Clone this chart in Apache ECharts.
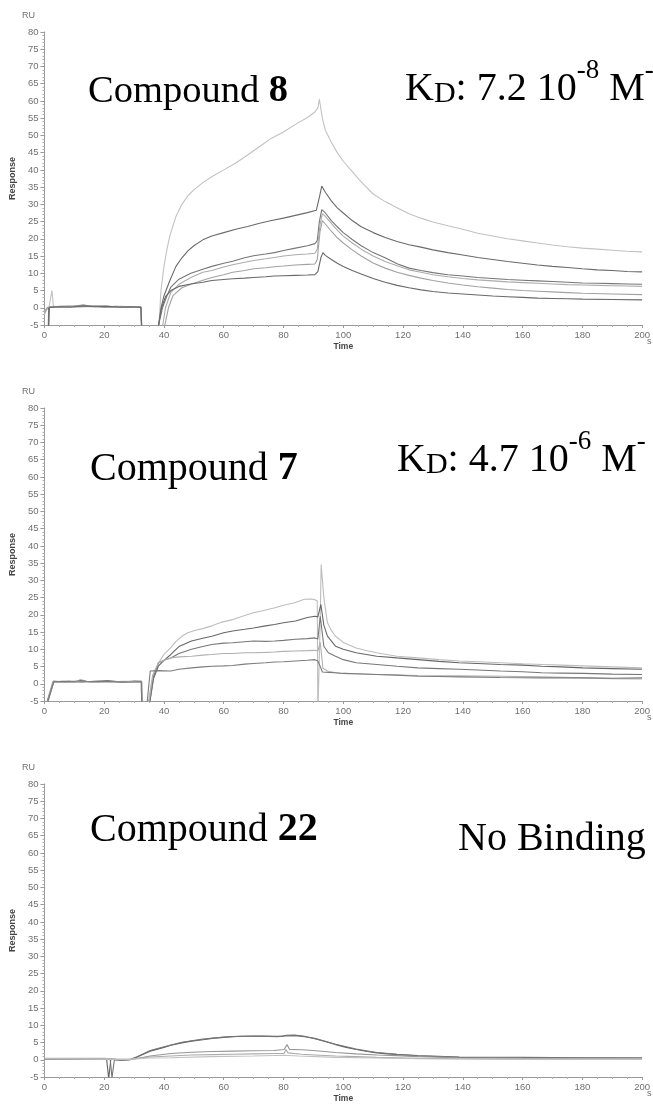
<!DOCTYPE html>
<html>
<head>
<meta charset="utf-8">
<script src="https://cdn.jsdelivr.net/npm/echarts@6/dist/echarts.min.js"></script>
<style>
	html,body{margin:0;padding:0;background:#fff}
	#chart{width:653px;height:1107px}
</style>
</head>
<body>
<div id="chart"></div>
<script>
// sensorgram data, [time s, response RU]
// compound 8
var c8_1 = [[0,-2],[0.8,-0.5],[1.5,0],[2,0.3],[2.5,5],[3,0.3],[5,0.4],[10,0.3],[13,0.7],[15,0.5],[20,0.3],[25,0.2],[30,0.2],[32.2,0.1],[32.6,-9],[37.6,-9],[38.3,-5],[39,5],[40,12],[41,17],[42,21],[44,26.5],[46,30],[48,32.5],[50,34.2],[53,36.3],[56,38],[60,40],[64,42],[68,44.3],[72,46.8],[76,49.2],[80,51],[84,53.2],[88,55.2],[90.5,56.8],[91.5,58],[92,60.5],[93,55],[94,51.5],[96,48],[98,45],[100,42.5],[103,39.5],[106,36.5],[110,33],[114,30.8],[118,29],[122,27.3],[126,26],[130,24.9],[135,23.8],[140,22.8],[145,21.6],[150,20.8],[155,20],[160,19.4],[165,18.8],[170,18.2],[175,17.7],[180,17.3],[185,17],[190,16.7],[195,16.4],[200,16.2]];
var c8_2 = [[0,-9],[1.3,-9],[1.5,0],[3,0.3],[6,0.4],[10,0.5],[13,0.8],[16,0.4],[20,0.5],[24,0.3],[28,0.2],[32.3,0.1],[32.7,-9],[37.4,-9],[38.2,-5],[39,0],[40,3.5],[42,8],[44,12],[46,14.5],[48,16.5],[50,18],[53,19.7],[56,20.8],[60,21.8],[64,22.8],[68,23.6],[72,24.5],[76,25.3],[80,26],[84,26.8],[88,27.6],[91,28.3],[92,32],[92.8,35.3],[94,33.5],[96,31],[98,29],[100,27.5],[103,25.3],[106,23.5],[110,21.8],[114,20.4],[118,19.2],[122,18.3],[126,17.6],[130,16.8],[135,16],[140,15.3],[145,14.6],[150,14],[155,13.4],[160,12.9],[165,12.4],[170,12],[175,11.7],[180,11.3],[185,11],[190,10.8],[195,10.5],[200,10.4]];
var c8_3 = [[0,-9],[1.2,-9],[1.4,0],[4,0.2],[8,0.4],[12,0.3],[16,0.5],[20,0.2],[24,0.4],[28,0.1],[32.3,0.2],[32.6,-9],[37.5,-9],[38.2,-5],[39.5,0],[41,3.5],[42.3,6],[45,8.3],[49,10],[53,11.2],[56,12],[60,12.9],[63,13.5],[67,14.5],[70,15.1],[74,15.6],[77,16],[80,16.6],[84,17.3],[88,18],[90.5,18.6],[91.3,19.5],[92,25],[92.8,28.5],[94,27.5],[96,25.3],[98,23.5],[100,21.8],[103,19.8],[106,18],[110,16],[114,14.5],[118,12.8],[122,11.5],[126,10.8],[130,10.2],[135,9.6],[140,9.2],[145,8.8],[150,8.5],[155,8.2],[160,8],[165,7.8],[170,7.6],[175,7.4],[180,7.2],[185,7.1],[190,7],[195,6.9],[200,6.8]];
var c8_4 = [[0,-1.5],[1,0],[3,0.4],[7,0.3],[11,0.5],[14,0.4],[18,0.6],[22,0.3],[26,0.4],[30,0.2],[32.3,0.2],[32.6,-9],[38.8,-9],[39.6,-5],[40.5,0],[42.3,4.5],[45,6.8],[49,8.8],[53,10.3],[56,10.8],[60,11.8],[63,12.5],[67,13.2],[70,13.7],[74,14.2],[77,14.6],[80,15],[84,15.4],[88,15.6],[90.5,15.8],[91.3,17],[92.2,24],[93,27.3],[94,26.5],[96,24.5],[98,22.5],[100,20.8],[103,18.8],[106,17],[110,15],[114,13.4],[118,12.2],[122,11],[126,10.3],[130,9.6],[135,9],[140,8.5],[145,8.1],[150,7.8],[155,7.5],[160,7.3],[165,7.1],[170,6.9],[175,6.7],[180,6.6],[185,6.5],[190,6.4],[195,6.3],[200,6.2]];
var c8_5 = [[0,-1],[1,0.1],[3,0.3],[6,0.2],[10,0.4],[14,0.3],[18,0.4],[22,0.2],[26,0.3],[30,0.1],[32.3,0.1],[32.6,-9],[39.5,-9],[40.3,-5],[41.5,0],[43,3.5],[46,5.8],[49.2,6.9],[53,8],[56,8.8],[60,9.6],[63,10.3],[67,10.8],[70,11.3],[74,11.6],[77,11.9],[80,12.1],[84,12.4],[88,12.6],[90.5,12.7],[91.3,14],[92.2,22],[93,25.3],[94,24.3],[96,22.2],[98,20.3],[100,18.8],[103,16.8],[106,15],[110,13],[114,11.5],[118,10.3],[122,9.4],[126,8.6],[130,7.9],[135,7.2],[140,6.6],[145,6.1],[150,5.7],[155,5.3],[160,5],[165,4.8],[170,4.6],[175,4.4],[180,4.2],[190,4],[200,3.8]];
var c8_6 = [[0,-9],[1.3,-9],[1.6,0.1],[5,0.3],[9,0.2],[13,0.5],[17,0.3],[21,0.4],[25,0.2],[29,0.3],[32.3,0.1],[32.7,-9],[37.4,-9],[38.2,-5],[39.2,0],[40.5,3.2],[42.3,5],[45,6.2],[49,6.9],[53,7.4],[56,7.9],[60,8.2],[63,8.4],[67,8.6],[70,8.8],[74,9],[77,9.2],[80,9.3],[84,9.4],[88,9.5],[90.5,9.6],[91.5,10.5],[92.5,14.5],[93.2,16],[94,15.2],[96,14],[98,12.9],[100,12],[103,10.8],[106,9.8],[110,8.5],[114,7.4],[118,6.5],[122,5.8],[126,5.2],[130,4.7],[135,4.3],[140,4],[145,3.7],[150,3.4],[155,3.2],[160,3],[165,2.8],[170,2.7],[175,2.6],[180,2.5],[190,2.4],[200,2.3]];

// compound 7
var c7_1 = [[0,-9],[0.9,-5],[2.8,0.7],[5,0.6],[8,0.8],[11,0.6],[12,1.3],[14,0.7],[18,0.5],[22,0.8],[26,0.4],[30,0.7],[32.4,0.7],[32.6,-9],[34.3,-9],[34.8,-5],[36,1],[38.1,6],[40,8.5],[42.3,10.5],[44,12.3],[46.4,14],[48,14.8],[50.5,15.5],[53,16],[56,16.8],[59,17.8],[62.9,18.6],[66,19.5],[69.9,20.6],[73,21.2],[76.8,22],[80,22.8],[83.7,23.5],[87,24.5],[89,24.6],[90.5,24.4],[91.3,24],[91.5,-9],[91.9,-9],[92.2,15],[92.6,34.6],[93.5,25],[94.7,17.7],[96,15.5],[97.4,13.8],[100,12],[104.3,10.4],[108,9.6],[111.2,9],[115,8.4],[118,8],[125,7.5],[132,7],[138.8,6.6],[145,6.4],[152.6,6.1],[160,5.8],[166.4,5.6],[173,5.4],[180.2,5.2],[190,4.9],[200,4.6]];
var c7_2 = [[0,-9],[1,-5],[3,0.6],[6,0.7],[10,0.5],[12,0.9],[15,0.6],[20,0.7],[25,0.5],[30,0.6],[32.5,0.6],[32.7,-9],[34.6,-9],[35.3,-5],[36.5,1.5],[38.1,5.1],[40,6.8],[42.3,8.5],[45,10.8],[49.2,12.4],[53,13.2],[56,13.8],[60,14.8],[63,15.3],[67,15.8],[70,16.2],[74,16.8],[77,17.2],[80,17.7],[84,18.2],[88,19.2],[90.5,19.6],[91.5,19.4],[92.5,23],[93.5,17],[94.7,13.8],[97.4,10.9],[100,10],[104.3,9],[111.2,8],[118,7.5],[125,7],[132,6.5],[138.8,6.1],[145,5.9],[152.6,5.6],[160,5.4],[166.4,5.1],[173,4.9],[180.2,4.6],[190,4.4],[200,4.2]];
var c7_3 = [[0,-9],[1.2,-5],[3.2,0.7],[7,0.5],[11,0.8],[16,0.6],[21,0.9],[26,0.5],[30,0.8],[32.5,0.7],[32.7,-9],[34.6,-9],[35.3,-5],[36.5,2],[38.1,6],[40,6.8],[42.3,7.5],[45,8.8],[49.2,10],[53,10.8],[56,11.4],[60,11.8],[63,11.9],[67,12.2],[70,12.4],[74,12.3],[77,12.4],[80,12.6],[84,12.9],[88,13.1],[90.5,13.3],[91.5,13],[92.3,19.6],[93.5,10.9],[95,9],[97.4,8],[100,7],[104.3,6.1],[111.2,5.6],[118,5.1],[125,4.6],[132,4.4],[138.8,4.2],[145,4],[152.6,3.7],[160,3.5],[166.4,3.2],[173,3.1],[180.2,3],[190,2.8],[200,2.7]];
var c7_4 = [[0,-9],[1,-5],[3,0.8],[6,0.6],[9,0.7],[13,0.5],[17,0.8],[22,0.6],[27,0.7],[32.4,0.6],[32.6,-9],[34.4,-9],[35,-5],[36.2,2.5],[38.1,6],[40,6.8],[42.3,7.5],[45,7.8],[49.2,8],[53,8.3],[56,8.5],[60,8.8],[63,8.8],[67,9],[70,9],[74,9.1],[77,9.2],[80,9.4],[84,9.5],[88,9.6],[90.5,9.7],[91.5,9.5],[92.3,12],[93.2,4.5],[94.7,3.7],[97.4,3.2],[100,3],[111.2,2.7],[125,2.4],[138.8,2.3],[152.6,2.2],[166.4,2],[180.2,1.7],[190,1.5],[200,1.4]];
var c7_5 = [[0,-9],[1.1,-5],[3.1,0.6],[8,0.7],[12,0.5],[18,0.7],[24,0.6],[29,0.5],[32.4,0.6],[32.6,-9],[34,-9],[34.4,-5],[35.4,3.7],[38,3.8],[42.3,3.7],[45,4.2],[49.2,4.6],[53,4.9],[56.1,5.1],[60,5.2],[63,5.3],[67,5.7],[70,5.9],[74,6.1],[77,6.3],[80,6.4],[84,6.6],[88,6.8],[90.5,7],[91.5,6.6],[92.3,5],[93,3.4],[95,3.3],[97.4,3.2],[100,3],[104,2.9],[111.2,2.7],[118,2.5],[125,2.2],[132,2.1],[138.8,2],[152.6,1.8],[166.4,1.7],[180.2,1.7],[190,1.6],[200,1.7]];

// compound 22
var c22_1 = [[0,0.3],[5,0.3],[10,0.2],[15,0.3],[20,0.3],[20.8,0.2],[21.5,-5.5],[22.2,0.2],[24,0],[26,-0.1],[28.5,0],[31,0.8],[35.4,2.5],[40,3.6],[42.3,4.2],[46,4.9],[49.2,5.4],[53,5.8],[56.1,6.2],[60,6.5],[63,6.7],[66,6.8],[69.9,6.9],[73,6.85],[76.8,6.8],[79.5,6.8],[81,7.1],[83.7,7.2],[87,6.8],[90.5,6.1],[94,5.3],[97.4,4.4],[101,3.6],[104.3,3],[108,2.4],[111.2,2],[115,1.7],[118,1.5],[122,1.3],[125,1.1],[132,0.9],[138.8,0.7],[150,0.6],[160,0.6],[175,0.5],[190,0.5],[200,0.4]];
var c22_2 = [[0,0.1],[5,0.2],[10,0.1],[15,0.2],[20,0.2],[22,0.2],[22.6,-5.2],[23.4,0],[25,-0.1],[28.5,0],[31,0.9],[35.4,2.7],[40,3.8],[46,5.1],[53,6],[60,6.6],[66,6.8],[72,6.8],[78,6.7],[80.5,6.9],[83.7,7],[87,6.7],[90.5,6.2],[97.4,4.5],[104.3,3.1],[111.2,2.1],[118,1.6],[125,1.2],[138.8,0.8],[160,0.7],[180,0.6],[200,0.6]];
var c22_3 = [[0,0.2],[20,0.2],[24,0.1],[28.5,0],[35.4,1.1],[42.3,1.8],[49.2,2.2],[56.1,2.4],[63,2.5],[69.9,2.6],[76.8,2.7],[80.2,3],[81.2,4.4],[82,3],[86,2.9],[90,2.7],[97.4,2.1],[104.3,1.7],[111.2,1.4],[118,1.2],[125,0.9],[138.8,0.6],[160,0.4],[180,0.3],[200,0.3]];
var c22_4 = [[0,0.4],[20,0.4],[24,0.2],[28.5,0.1],[35.4,0.8],[42.3,1.1],[49.2,1.4],[56.1,1.5],[63,1.6],[69.9,1.7],[76.8,1.8],[80.2,1.8],[80.8,3],[81.5,2],[86,1.6],[90.5,1.4],[97.4,1.1],[104.3,0.9],[111.2,0.7],[125,0.4],[140,0.3],[160,0.2],[200,0.2]];
var c22_5 = [[0,0.3],[28,0.1],[35,0.5],[42.3,0.6],[56,0.9],[69.9,1.1],[80.2,1.3],[85,1.1],[97.4,0.7],[111.2,0.5],[125,0.3],[150,0.2],[200,0.2]];

var xTicks = [0, 200, 20];   // min, max, step
var yTicks = [-5, 80, 5];

var panels = [
	{top: 32, curves: [c8_1, c8_2, c8_3, c8_4, c8_5, c8_6], colors: ['#c2c2c2', '#6a6a6a', '#767676', '#acacac', '#a2a2a2', '#696969']},
	{top: 408, curves: [c7_1, c7_2, c7_3, c7_4, c7_5], colors: ['#bdbdbd', '#666666', '#777777', '#b0b0b0', '#7c7c7c']},
	{top: 784, curves: [c22_1, c22_2, c22_3, c22_4, c22_5], colors: ['#646464', '#747474', '#969696', '#acacac', '#c2c2c2']}
];

var grids = [], xAxes = [], yAxes = [], series = [], graphics = [];
var lab = {fontSize: 9.5, color: '#707070', fontFamily: 'Liberation Sans'};

panels.forEach(function (p, i) {
	grids.push({left: 39, right: 10, top: p.top, height: 293});
	xAxes.push({
		type: 'value', gridIndex: i, min: xTicks[0], max: xTicks[1], interval: xTicks[2],
		axisLine: {onZero: false, lineStyle: {color: '#9a9a9a'}},
		axisTick: {length: 3, lineStyle: {color: '#9a9a9a'}},
		minorTick: {show: true, splitNumber: 4, length: 2, lineStyle: {color: '#b0b0b0'}},
		splitLine: {show: false},
		axisLabel: Object.assign({margin: 5}, lab),
		name: 'Time', nameLocation: 'middle', nameGap: 17,
		nameTextStyle: {fontSize: 8.5, fontWeight: 'bold', color: '#444', fontFamily: 'Liberation Sans'}
	});
	yAxes.push({
		type: 'value', gridIndex: i, min: yTicks[0], max: yTicks[1], interval: yTicks[2],
		axisLine: {show: true, onZero: false, lineStyle: {color: '#9a9a9a'}},
		axisTick: {show: true, length: 4, lineStyle: {color: '#9a9a9a'}},
		minorTick: {show: true, splitNumber: 5, length: 2, lineStyle: {color: '#b0b0b0'}},
		splitLine: {show: false},
		axisLabel: Object.assign({margin: 6}, lab),
		name: 'Response', nameLocation: 'middle', nameGap: 24,
		nameTextStyle: {fontSize: 9, fontWeight: 'bold', color: '#444', fontFamily: 'Liberation Sans'}
	});
	p.curves.forEach(function (d, k) {
		series.push({
			type: 'line', xAxisIndex: i, yAxisIndex: i, data: d,
			showSymbol: false, clip: true, silent: true,
			lineStyle: {width: 1.1, color: p.colors[k]}
		});
	});
	graphics.push({type: 'text', x: 22, y: p.top - 21, style: {text: 'RU', font: '9px "Liberation Sans"', fill: '#707070'}});
	graphics.push({type: 'text', x: 647, y: p.top + 305, style: {text: 's', font: '9px "Liberation Sans"', fill: '#707070'}});
});

var serif = {fontFamily: 'Liberation Serif', color: '#111'};
function title(x, y, text, size) {
	size = size || 40;
	return {
		type: 'text', x: x, y: y,
		style: {
			text: text, textVerticalAlign: 'middle',
			rich: {
				n: Object.assign({fontSize: size, lineHeight: 52, verticalAlign: 'bottom'}, serif),
				b: Object.assign({fontSize: size, lineHeight: 52, verticalAlign: 'bottom', fontWeight: 'bold'}, serif),
				sub: Object.assign({fontSize: 30, lineHeight: 26, verticalAlign: 'bottom'}, serif),
				sup: Object.assign({fontSize: 27, lineHeight: 27, verticalAlign: 'top'}, serif)
			}
		}
	};
}
graphics.push(title(88, 85, '{n|Compound }{b|8}', 38.5));
graphics.push(title(405, 83, '{n|K}{sub|D}{n|: 7.2 10}{sup|-8}{n| M}{sup|-}'));
graphics.push(title(90, 463, '{n|Compound }{b|7}'));
graphics.push(title(397, 454, '{n|K}{sub|D}{n|: 4.7 10}{sup|-6}{n| M}{sup|-}'));
graphics.push(title(90, 824, '{n|Compound }{b|22}'));
graphics.push(title(458, 833, '{n|No Binding}'));

var myChart = echarts.init(document.getElementById('chart'));
myChart.setOption({
	animation: false,
	backgroundColor: '#fff',
	grid: grids,
	xAxis: xAxes,
	yAxis: yAxes,
	series: series,
	graphic: graphics
});
</script>
</body>
</html>
